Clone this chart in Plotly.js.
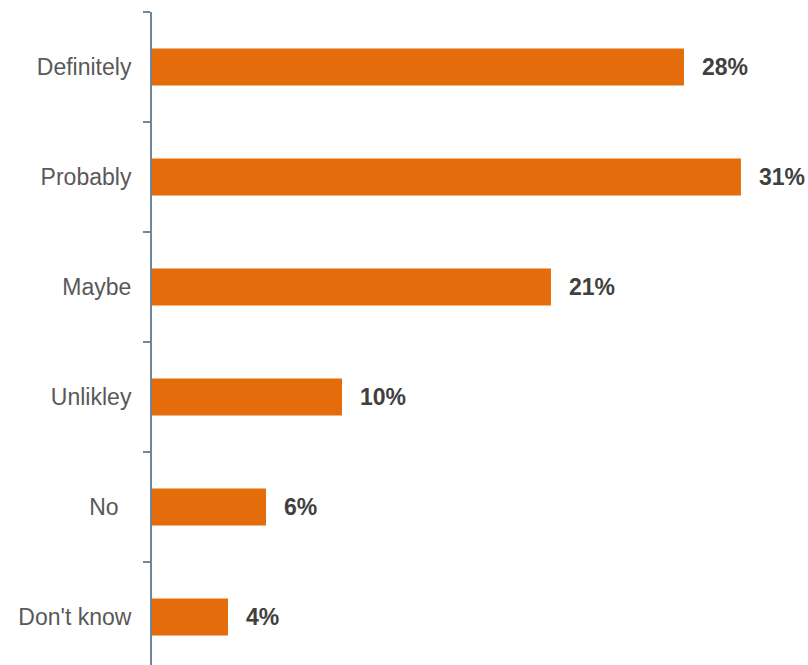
<!DOCTYPE html>
<html>
<head>
<meta charset="utf-8">
<script src="https://cdn.plot.ly/plotly-3.0.1.min.js"></script>
<style>html,body{margin:0;padding:0;background:#fff;}#chart{width:808px;height:665px;}</style>
</head>
<body>
<div id="chart"></div>
<script>
var categories = ["Definitely", "Probably", "Maybe", "Unlikley", "No\u00a0\u00a0", "Don't know"];
var values = [28, 31, 21, 10, 6, 4];
var valueLabels = ["28%", "31%", "21%", "10%", "6%", "4%"];

var trace = {
  type: "bar",
  orientation: "h",
  y: categories,
  x: values,
  width: 0.336,
  marker: {color: "#E46C0A"},
  hoverinfo: "none"
};

var annotations = values.map(function (v, i) {
  return {
    x: v, y: categories[i], xref: "x", yref: "y",
    text: valueLabels[i], showarrow: false,
    xanchor: "left", xshift: 16,
    font: {family: "Liberation Sans, Arial, sans-serif", size: 23, color: "#404040", weight: "bold"}
  };
});

var layout = {
  width: 808, height: 665,
  margin: {l: 152, r: 0, t: 12, b: 0, pad: 0},
  paper_bgcolor: "#ffffff", plot_bgcolor: "#ffffff",
  showlegend: false,
  font: {family: "Liberation Sans, Arial, sans-serif"},
  xaxis: {range: [0, 34.53], visible: false, showgrid: false, zeroline: false, fixedrange: true},
  yaxis: {
    type: "category",
    categoryorder: "array", categoryarray: categories,
    range: [5.436, -0.5],
    showline: true, linecolor: "#71869A", linewidth: 2,
    ticks: "outside", tickson: "boundaries", ticklen: 7, tickwidth: 2, tickcolor: "#71869A",
    showgrid: false, zeroline: false,
    ticklabelstandoff: 14,
    tickfont: {family: "Liberation Sans, Arial, sans-serif", size: 23, color: "#595959"},
    fixedrange: true
  },
  annotations: annotations
};

Plotly.newPlot("chart", [trace], layout, {displayModeBar: false, staticPlot: true});
</script>
</body>
</html>
